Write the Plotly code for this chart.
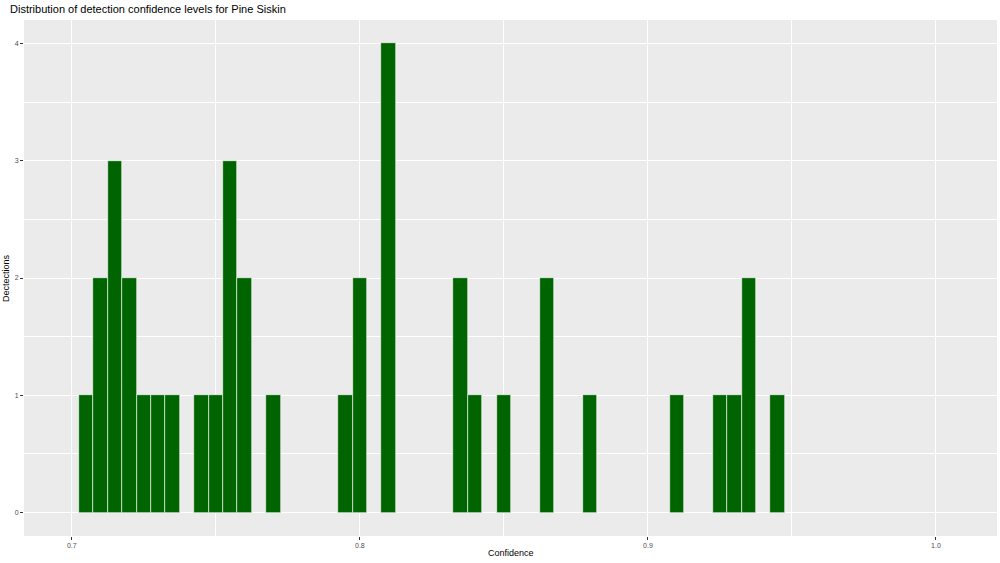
import plotly.graph_objects as go

bin_centers = [0.705, 0.710, 0.715, 0.720, 0.725, 0.730, 0.735,
               0.745, 0.750, 0.755, 0.760, 0.770,
               0.795, 0.800, 0.810,
               0.835, 0.840, 0.850, 0.865, 0.880,
               0.910, 0.925, 0.930, 0.935, 0.945]
counts = [1, 2, 3, 2, 1, 1, 1,
          1, 1, 3, 2, 1,
          1, 2, 4,
          2, 1, 1, 2, 1,
          1, 1, 1, 2, 1]
bin_width = 0.005
x_ticks = [0.7, 0.8, 0.9, 1.0]
x_tick_labels = ["0.7", "0.8", "0.9", "1.0"]
y_ticks = [0, 1, 2, 3, 4]

fig = go.Figure()
fig.add_trace(go.Bar(
    x=bin_centers, y=counts, width=[bin_width] * len(counts),
    marker=dict(color="#006400", line=dict(color="white", width=0.6)),
    showlegend=False,
))

font = "Liberation Sans, Arial, sans-serif"
fig.update_layout(
    width=1000, height=563,
    margin=dict(l=24, r=3, t=20, b=27, autoexpand=False),
    paper_bgcolor="white", plot_bgcolor="#EBEBEB",
    bargap=0,
    title=dict(text="Distribution of detection confidence levels for Pine Siskin",
               x=0.01, xanchor="left", y=0.984, yanchor="middle",
               font=dict(family=font, size=11, color="black")),
    font=dict(family=font),
    annotations=[
        dict(text="Confidence", xref="paper", yref="paper", x=0.5, y=-0.033,
             xanchor="center", yanchor="middle", showarrow=False,
             font=dict(family=font, size=9, color="black")),
        dict(text="Dectections", xref="paper", yref="paper", x=0, y=0.5,
             xanchor="right", yanchor="middle", textangle=-90, showarrow=False,
             xshift=-11, font=dict(family=font, size=9, color="black")),
    ],
)
fig.update_xaxes(
    range=[0.6834, 1.0212], tickvals=x_ticks, ticktext=x_tick_labels,
    automargin=False,
    showgrid=True, gridcolor="white", gridwidth=1.1,
    minor=dict(dtick=0.05, tick0=0.65, showgrid=True, gridcolor="white", gridwidth=0.5),
    zeroline=False, showline=False,
    ticks="outside", ticklen=3, tickcolor="#333333", tickwidth=0.6,
    tickfont=dict(family=font, size=7, color="#4D4D4D"),
)
fig.update_yaxes(
    range=[-0.2, 4.2], tickvals=y_ticks,
    automargin=False,
    showgrid=True, gridcolor="white", gridwidth=1.1,
    minor=dict(dtick=0.5, tick0=0.5, showgrid=True, gridcolor="white", gridwidth=0.5),
    zeroline=False, showline=False,
    ticks="outside", ticklen=3, tickcolor="#333333", tickwidth=0.6,
    tickfont=dict(family=font, size=7, color="#4D4D4D"),
)

fig.write_html(
    "out.html",
    config={"displayModeBar": False},
    post_script="document.body.style.margin='0';document.body.style.overflow='hidden';",
)
